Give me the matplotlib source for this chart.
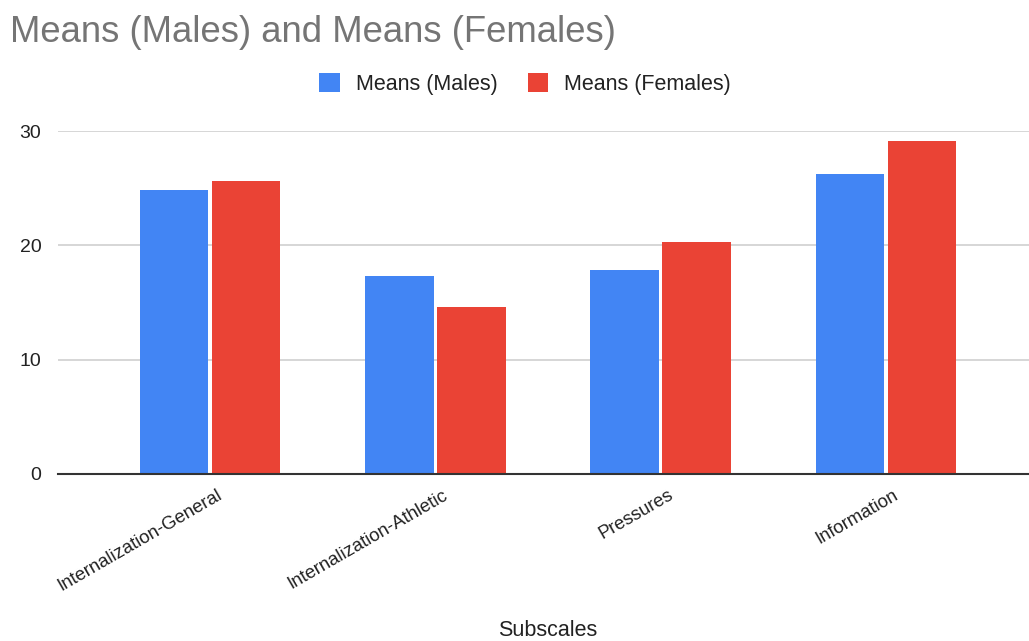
import matplotlib
matplotlib.use("Agg")
import matplotlib.pyplot as plt
import numpy as np

categories = ["Internalization-General", "Internalization-Athletic", "Pressures", "Information"]
males = [24.8, 17.3, 17.8, 26.2]
females = [25.6, 14.6, 20.3, 29.1]
series_names = ["Means (Males)", "Means (Females)"]
yticks = [0, 10, 20, 30]

plt.rcParams['font.family'] = ['Liberation Sans', 'DejaVu Sans']

fig = plt.figure(figsize=(10.29, 6.41), dpi=100)
ax = fig.add_axes([58/1029, 1-474/641, 1-58/1029, (474-131)/641])

x = np.arange(len(categories))
w = 0.305
ax.bar(x - 0.16, males, width=w, color="#4285F4", label=series_names[0], zorder=3)
ax.bar(x + 0.16, females, width=w, color="#EA4335", label=series_names[1], zorder=3)

ax.set_xlim(-0.675, 3.635)
ax.set_ylim(0, 30)
ax.set_yticks(yticks)
ax.set_yticklabels([str(t) for t in yticks], fontsize=14, color="#222222")
ax.yaxis.grid(True, color="#cccccc", linewidth=1.1, zorder=0)
ax.tick_params(axis='y', length=0, pad=12)
ax.tick_params(axis='x', length=0, pad=9)
for s in ["top", "right", "left"]:
    ax.spines[s].set_visible(False)
ax.spines["bottom"].set_color("#333333")
ax.spines["bottom"].set_linewidth(1.5)
ax.spines["bottom"].set_zorder(4)

ax.set_xticks(x + 0.03)
ax.set_xticklabels(categories, rotation=30, ha='right', rotation_mode='anchor',
                   fontsize=13.3, color="#222222")

fig.text(548/1029, 1-631/641, "Subscales", fontsize=15.5, color="#222222",
         ha='center', va='center')

fig.text(10/1029, 1-42/641, "Means (Males) and Means (Females)", fontsize=26.3,
         color="#757575", ha='left', va='baseline')

fig.legend(loc='center', bbox_to_anchor=(525/1029, 1-84/641), ncol=2, frameon=False,
           fontsize=15.5, handlelength=0.95, handleheight=1.0, handletextpad=0.75,
           columnspacing=1.4, labelcolor="#222222")

fig.savefig("out.png", dpi=100)
